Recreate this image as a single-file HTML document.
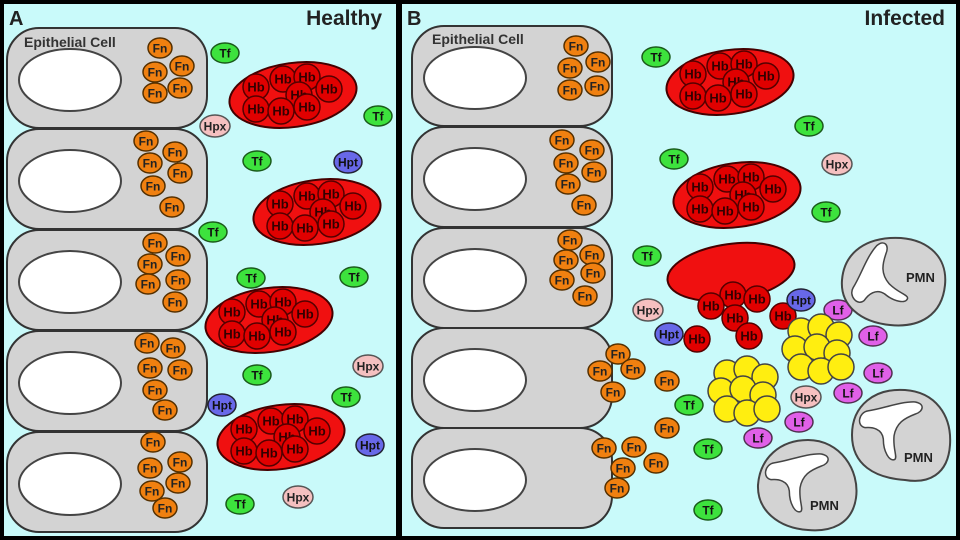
<!DOCTYPE html>
<html><head><meta charset="utf-8"><style>
body{margin:0;background:#000;}
svg{display:block;font-family:"Liberation Sans",sans-serif;font-weight:bold;}
</style></head><body>
<svg width="960" height="540" viewBox="0 0 960 540" xmlns="http://www.w3.org/2000/svg">
<defs>
<g id="cell"><rect x="0" y="0" width="200" height="100" rx="32" fill="#d3d3d3" stroke="#333" stroke-width="2"/><ellipse cx="63" cy="52" rx="51" ry="31" fill="#fff" stroke="#444" stroke-width="2"/></g>
<g id="fn"><ellipse rx="12" ry="10" fill="#f08010" stroke="#553000" stroke-width="1.5"/><text y="4.5" font-size="12" text-anchor="middle" fill="#222">Fn</text></g>
<g id="tf"><ellipse rx="14" ry="10" fill="#3de23d" stroke="#1a5a1a" stroke-width="1.5"/><text y="4.5" font-size="12" text-anchor="middle" fill="#111">Tf</text></g>
<g id="hpx"><ellipse rx="15" ry="11" fill="#f5c0c0" stroke="#555" stroke-width="1.5"/><text y="4.5" font-size="12" text-anchor="middle" fill="#222">Hpx</text></g>
<g id="hpt"><ellipse rx="14" ry="11" fill="#6868e8" stroke="#223" stroke-width="1.5"/><text y="4.5" font-size="12" text-anchor="middle" fill="#111">Hpt</text></g>
<g id="lf"><ellipse rx="14" ry="10" fill="#e060e8" stroke="#503050" stroke-width="1.5"/><text y="4.5" font-size="12" text-anchor="middle" fill="#111">Lf</text></g>
<g id="hb"><circle r="13" fill="#e00000" stroke="#500" stroke-width="1.5"/><text y="4.5" font-size="13" text-anchor="middle" fill="#300">Hb</text></g>
<g id="rbc"><ellipse rx="64" ry="32" fill="#f01010" stroke="#400" stroke-width="2" transform="rotate(-8)"/>
<use href="#hb" x="-37" y="-8"/><use href="#hb" x="-10" y="-16"/><use href="#hb" x="14" y="-18"/><use href="#hb" x="6" y="0"/><use href="#hb" x="36" y="-6"/><use href="#hb" x="-37" y="14"/><use href="#hb" x="-12" y="16"/><use href="#hb" x="14" y="12"/></g>
<g id="yl"><circle r="13" fill="#ffee10" stroke="#444" stroke-width="1.5"/></g>
<g id="ycl"><use href="#yl" x="-16" y="-20"/><use href="#yl" x="4" y="-24"/><use href="#yl" x="22" y="-16"/><use href="#yl" x="-22" y="-2"/><use href="#yl" x="0" y="-4"/><use href="#yl" x="20" y="2"/><use href="#yl" x="-16" y="16"/><use href="#yl" x="4" y="20"/><use href="#yl" x="24" y="16"/></g>
<g id="pmnw"><path d="M-25,-15 C-10,-20 5,-30 20,-32 C30,-32 30,-24 22,-20 C12,-14 5,-8 5,5 C6,18 12,25 10,28 C5,32 -3,22 -5,10 C-8,0 -18,0 -25,2 C-34,2 -34,-12 -25,-15 Z" fill="#fff" stroke="#444" stroke-width="1.5"/></g>
</defs>
<rect x="4" y="4" width="392" height="532" fill="#c9fafa"/>
<rect x="402" y="4" width="554" height="532" fill="#c9fafa"/>
<text x="9" y="25" font-size="20" fill="#222">A</text>
<text x="382" y="25" font-size="21" text-anchor="end" fill="#222">Healthy</text>
<text x="407" y="25" font-size="20" fill="#222">B</text>
<text x="945" y="25" font-size="21" text-anchor="end" fill="#222">Infected</text>
<use href="#cell" x="7" y="28"/><use href="#cell" x="7" y="129"/><use href="#cell" x="7" y="230"/><use href="#cell" x="7" y="331"/><use href="#cell" x="7" y="432"/>
<text x="24" y="47" font-size="14" fill="#333">Epithelial Cell</text>
<use href="#cell" x="412" y="26"/><use href="#cell" x="412" y="127"/><use href="#cell" x="412" y="228"/><use href="#cell" x="412" y="328"/><use href="#cell" x="412" y="428"/>
<text x="432" y="44" font-size="14" fill="#333">Epithelial Cell</text>
<use href="#fn" x="160" y="48"/><use href="#fn" x="155" y="72"/><use href="#fn" x="182" y="66"/><use href="#fn" x="155" y="93"/><use href="#fn" x="180" y="88"/>
<use href="#fn" x="146" y="141"/><use href="#fn" x="175" y="152"/><use href="#fn" x="150" y="163"/><use href="#fn" x="180" y="173"/><use href="#fn" x="153" y="186"/><use href="#fn" x="172" y="207"/>
<use href="#fn" x="155" y="243"/><use href="#fn" x="150" y="264"/><use href="#fn" x="178" y="256"/><use href="#fn" x="148" y="284"/><use href="#fn" x="178" y="280"/><use href="#fn" x="175" y="302"/>
<use href="#fn" x="147" y="343"/><use href="#fn" x="173" y="348"/><use href="#fn" x="150" y="368"/><use href="#fn" x="180" y="370"/><use href="#fn" x="155" y="390"/><use href="#fn" x="165" y="410"/>
<use href="#fn" x="153" y="442"/><use href="#fn" x="150" y="468"/><use href="#fn" x="180" y="462"/><use href="#fn" x="152" y="491"/><use href="#fn" x="178" y="483"/><use href="#fn" x="165" y="508"/>
<use href="#rbc" x="293" y="95"/><use href="#rbc" x="317" y="212"/><use href="#rbc" x="269" y="320"/><use href="#rbc" x="281" y="437"/>
<use href="#tf" x="225" y="53"/><use href="#tf" x="378" y="116"/><use href="#tf" x="257" y="161"/><use href="#tf" x="213" y="232"/><use href="#tf" x="251" y="278"/><use href="#tf" x="354" y="277"/><use href="#tf" x="257" y="375"/><use href="#tf" x="346" y="397"/><use href="#tf" x="240" y="504"/>
<use href="#hpx" x="215" y="126"/><use href="#hpx" x="368" y="366"/><use href="#hpx" x="298" y="497"/>
<use href="#hpt" x="348" y="162"/><use href="#hpt" x="222" y="405"/><use href="#hpt" x="370" y="445"/>
<use href="#fn" x="576" y="46"/><use href="#fn" x="570" y="68"/><use href="#fn" x="598" y="62"/><use href="#fn" x="570" y="90"/><use href="#fn" x="597" y="86"/>
<use href="#fn" x="562" y="140"/><use href="#fn" x="592" y="150"/><use href="#fn" x="566" y="163"/><use href="#fn" x="594" y="172"/><use href="#fn" x="568" y="184"/><use href="#fn" x="584" y="205"/>
<use href="#fn" x="570" y="240"/><use href="#fn" x="566" y="260"/><use href="#fn" x="592" y="255"/><use href="#fn" x="562" y="280"/><use href="#fn" x="593" y="273"/><use href="#fn" x="585" y="296"/>
<use href="#fn" x="618" y="354"/><use href="#fn" x="600" y="371"/><use href="#fn" x="633" y="369"/><use href="#fn" x="613" y="392"/><use href="#fn" x="667" y="381"/><use href="#fn" x="667" y="428"/>
<use href="#fn" x="604" y="448"/><use href="#fn" x="634" y="447"/><use href="#fn" x="656" y="463"/><use href="#fn" x="623" y="468"/><use href="#fn" x="617" y="488"/>
<use href="#rbc" x="730" y="82"/><use href="#rbc" x="737" y="195"/>
<ellipse cx="731" cy="272" rx="64" ry="28" fill="#f01010" stroke="#400" stroke-width="2" transform="rotate(-8 731 272)"/>
<use href="#hb" x="733" y="295"/><use href="#hb" x="757" y="299"/><use href="#hb" x="711" y="306"/><use href="#hb" x="735" y="318"/><use href="#hb" x="749" y="336"/><use href="#hb" x="783" y="316"/><use href="#hb" x="697" y="339"/>
<use href="#tf" x="656" y="57"/><use href="#tf" x="809" y="126"/><use href="#tf" x="674" y="159"/><use href="#tf" x="826" y="212"/><use href="#tf" x="647" y="256"/><use href="#tf" x="689" y="405"/><use href="#tf" x="708" y="449"/><use href="#tf" x="708" y="510"/>
<use href="#hpx" x="837" y="164"/><use href="#hpx" x="648" y="310"/><use href="#hpx" x="806" y="397"/>
<use href="#hpt" x="801" y="300"/><use href="#hpt" x="669" y="334"/>
<use href="#lf" x="838" y="310"/><use href="#lf" x="873" y="336"/><use href="#lf" x="878" y="373"/><use href="#lf" x="848" y="393"/><use href="#lf" x="799" y="422"/><use href="#lf" x="758" y="438"/>
<use href="#ycl" x="743" y="393"/><use href="#ycl" x="817" y="351"/>
<path d="M890,238 C925,236 948,255 945,285 C942,315 920,328 890,325 C860,322 840,305 842,280 C844,255 862,240 890,238 Z" fill="#d3d3d3" stroke="#444" stroke-width="2"/>
<use href="#pmnw" x="882" y="283" transform="rotate(-40 882 283)"/>
<text x="906" y="282" font-size="13" fill="#222">PMN</text>
<path d="M905,390 C935,392 952,415 950,445 C948,475 928,484 905,480 C875,478 852,465 852,435 C852,405 875,388 905,390 Z" fill="#d3d3d3" stroke="#444" stroke-width="2"/>
<use href="#pmnw" x="890" y="430" transform="rotate(10 890 430)"/>
<text x="904" y="462" font-size="13" fill="#222">PMN</text>
<path d="M808,440 C840,440 860,470 856,498 C852,525 830,532 808,530 C778,528 757,510 758,485 C760,458 780,440 808,440 Z" fill="#d3d3d3" stroke="#444" stroke-width="2"/>
<use href="#pmnw" x="796" y="482" transform="rotate(10 796 482)"/>
<text x="810" y="510" font-size="13" fill="#222">PMN</text>
</svg>
</body></html>
